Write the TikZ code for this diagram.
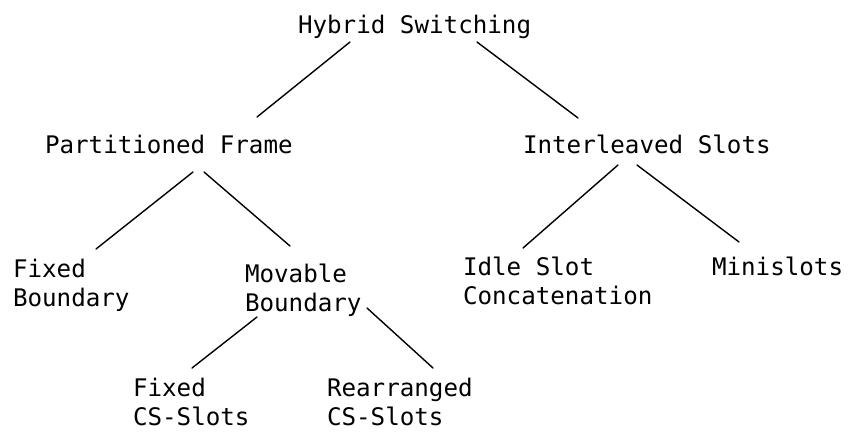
\documentclass[tikz,border=0pt]{standalone}
\usepackage{fontspec}
\setmonofont{DejaVu Sans Mono}
\begin{document}
\begin{tikzpicture}[x=1pt,y=-1pt,
  lbl/.style={anchor=base west,inner sep=0pt,outer sep=0pt,
    font=\ttfamily\fontsize{24.2}{29}\selectfont},
  edge/.style={line width=1.4pt,line cap=round}]
\useasboundingbox (0,0) rectangle (850,431);
\newcommand{\twol}[2]{\begin{tabular}[t]{@{}l@{}}#1\\#2\end{tabular}}
\node[lbl] (hs) at (298,33) {Hybrid Switching};
\node[lbl] (pf) at (45,153) {Partitioned Frame};
\node[lbl] (is) at (523,153) {Interleaved Slots};
\node[lbl] (fb) at (13,277) {\twol{Fixed}{Boundary}};
\node[lbl] (mb) at (245,282) {\twol{Movable}{Boundary}};
\node[lbl] (id) at (463,275) {\twol{Idle Slot}{Concatenation}};
\node[lbl] (mi) at (712,275) {Minislots};
\node[lbl] (fc) at (133,396) {\twol{Fixed}{CS-Slots}};
\node[lbl] (rc) at (327,396) {\twol{Rearranged}{CS-Slots}};
\draw[edge] ([shift={(52,9)}]hs.base west) -- ([shift={(212,-36)}]pf.base west);
\draw[edge] ([shift={(179,9)}]hs.base west) -- ([shift={(55,-35)}]is.base west);
\draw[edge] ([shift={(148,19)}]pf.base west) -- ([shift={(83,-28)}]fb.base west);
\draw[edge] ([shift={(159,19)}]pf.base west) -- ([shift={(45,-36)}]mb.base west);
\draw[edge] ([shift={(95,12)}]is.base west) -- ([shift={(60,-27)}]id.base west);
\draw[edge] ([shift={(114,12)}]is.base west) -- ([shift={(27,-33)}]mi.base west);
\draw[edge] ([shift={(12,35)}]mb.base west) -- ([shift={(59,-28)}]fc.base west);
\draw[edge] ([shift={(122,26)}]mb.base west) -- ([shift={(106,-28)}]rc.base west);
\end{tikzpicture}
\end{document}
